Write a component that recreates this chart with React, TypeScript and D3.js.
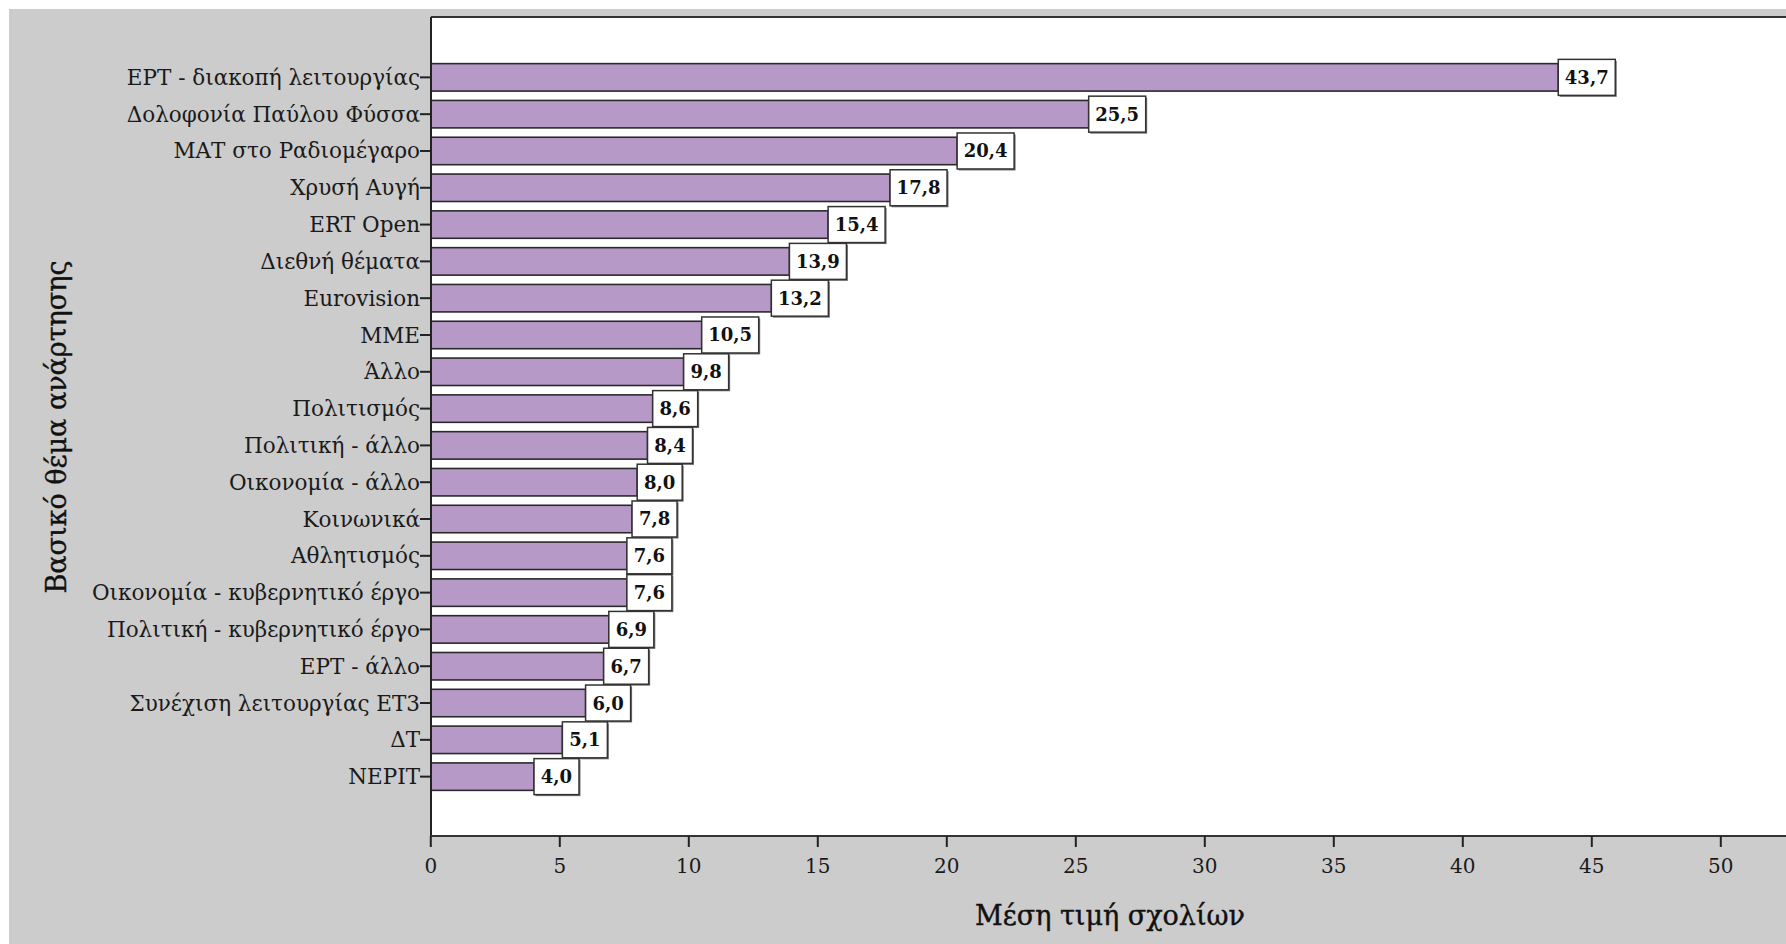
import React from "react";
import * as d3 from "d3";

const categories = [
  "ΕΡΤ - διακοπή λειτουργίας",
  "Δολοφονία Παύλου Φύσσα",
  "ΜΑΤ στο Ραδιομέγαρο",
  "Χρυσή Αυγή",
  "ERT Open",
  "Διεθνή θέματα",
  "Eurovision",
  "ΜΜΕ",
  "Άλλο",
  "Πολιτισμός",
  "Πολιτική - άλλο",
  "Οικονομία - άλλο",
  "Κοινωνικά",
  "Αθλητισμός",
  "Οικονομία - κυβερνητικό έργο",
  "Πολιτική - κυβερνητικό έργο",
  "ΕΡΤ - άλλο",
  "Συνέχιση λειτουργίας ΕΤ3",
  "ΔΤ",
  "ΝΕΡΙΤ",
];
const values = [43.7, 25.5, 20.4, 17.8, 15.4, 13.9, 13.2, 10.5, 9.8, 8.6, 8.4, 8.0, 7.8, 7.6, 7.6, 6.9, 6.7, 6.0, 5.1, 4.0];
const xTicks = [0, 5, 10, 15, 20, 25, 30, 35, 40, 45, 50];
const xTitle = "Μέση τιμή σχολίων";
const yTitle = "Βασικό θέμα ανάρτησης";

const W = 1786;
const H = 944;
const plotLeft = 431;
const plotTop = 17;
const plotBottom = 836;
const plotRight = 1800;

const serif = "'DejaVu Serif', 'Liberation Serif', serif";

export default function App() {
  const x = d3.scaleLinear().domain([0, 50]).range([430.8, 1720.8]);
  const y = d3
    .scaleBand<string>()
    .domain(categories)
    .range([plotTop + 1, plotBottom])
    .paddingInner(0.254)
    .paddingOuter(1.24);
  const bw = y.bandwidth();
  const fmt = (v: number) => v.toFixed(1).replace(".", ",");

  return (
    <svg
      width={W}
      height={H}
      style={{ position: "absolute", left: 0, top: 0, display: "block" }}
    >
      <rect x={0} y={0} width={W} height={H} fill="#ffffff" />
      <rect x={9} y={9} width={W - 9} height={H - 9} fill="#cccccc" />
      <rect
        x={plotLeft}
        y={plotTop}
        width={plotRight - plotLeft}
        height={plotBottom - plotTop}
        fill="#ffffff"
      />
      {/* bars */}
      {categories.map((c, i) => (
        <rect
          key={c}
          x={x(0)}
          y={y(c)!}
          width={x(values[i]) - x(0)}
          height={bw}
          fill="#b799c8"
          stroke="#2a2a2a"
          strokeWidth={1.6}
        />
      ))}
      {/* frame */}
      <line x1={plotLeft} x2={plotRight} y1={plotTop} y2={plotTop} stroke="#333" strokeWidth={2} />
      <line x1={plotLeft} x2={plotLeft} y1={plotTop} y2={plotBottom} stroke="#222" strokeWidth={2} />
      <line x1={plotLeft} x2={plotRight} y1={plotBottom} y2={plotBottom} stroke="#333" strokeWidth={2} />
      {/* y ticks and labels */}
      {categories.map((c) => {
        const cy = y(c)! + bw / 2;
        return (
          <g key={"yt" + c}>
            <line x1={plotLeft - 11} x2={plotLeft} y1={cy} y2={cy} stroke="#222" strokeWidth={2} />
            <text
              x={plotLeft - 11}
              y={cy}
              dy="0.35em"
              textAnchor="end"
              fontFamily={serif}
              fontSize={21.5}
              fill="#1a1a1a"
            >
              {c}
            </text>
          </g>
        );
      })}
      {/* x ticks */}
      {xTicks.map((t) => (
        <g key={"xt" + t}>
          <line x1={x(t)} x2={x(t)} y1={plotBottom} y2={plotBottom + 11} stroke="#222" strokeWidth={2} />
          <text
            x={x(t)}
            y={866}
            dy="0.35em"
            textAnchor="middle"
            fontFamily={serif}
            fontSize={20}
            fill="#1a1a1a"
          >
            {t}
          </text>
        </g>
      ))}
      {/* value labels */}
      {categories.map((c, i) => {
        const cy = y(c)! + bw / 2;
        const label = fmt(values[i]);
        const bwBox = label.length * 12 + 9;
        const bx = x(values[i]);
        const bh = 36;
        return (
          <g key={"vl" + c}>
            <rect x={bx + 1.5} y={cy - bh / 2 + 1.5} width={bwBox} height={bh} fill="#777" />
            <rect
              x={bx}
              y={cy - bh / 2}
              width={bwBox}
              height={bh}
              fill="#ffffff"
              stroke="#333"
              strokeWidth={1.5}
            />
            <text
              x={bx + bwBox / 2}
              y={cy}
              dy="0.36em"
              textAnchor="middle"
              fontFamily={serif}
              fontWeight="bold"
              fontSize={18}
              fill="#111"
            >
              {label}
            </text>
          </g>
        );
      })}
      {/* titles */}
      <text
        x={1110}
        y={916}
        dy="0.35em"
        textAnchor="middle"
        fontFamily={serif}
        fontSize={27}
        fill="#111"
        stroke="#111"
        strokeWidth={0.4}
      >
        {xTitle}
      </text>
      <text
        transform={`translate(57, 427) rotate(-90)`}
        dy="0.35em"
        textAnchor="middle"
        fontFamily={serif}
        fontSize={27}
        fill="#111"
        stroke="#111"
        strokeWidth={0.4}
      >
        {yTitle}
      </text>
    </svg>
  );
}
